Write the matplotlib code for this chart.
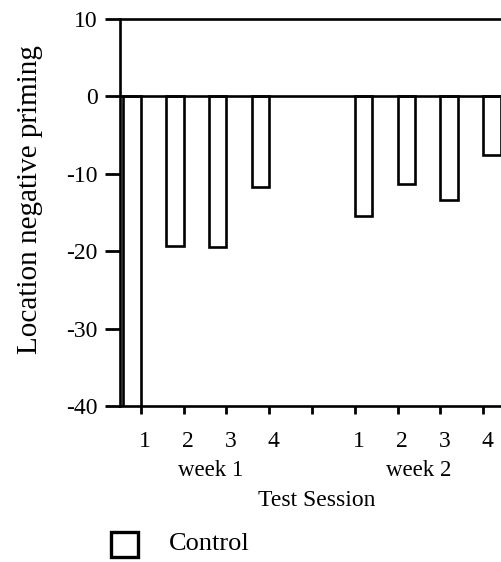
import matplotlib
matplotlib.use("Agg")
import matplotlib.pyplot as plt
import matplotlib.transforms as mtransforms
from matplotlib.patches import Rectangle

# Session labels and location negative priming scores (Control group)
week1_sessions = ["1", "2", "3", "4"]
week2_sessions = ["1", "2", "3", "4"]
week1_values = [-40.0, -19.3, -19.5, -11.7]
week2_values = [-15.4, -11.3, -13.4, -7.6]
week_labels = ["week 1", "week 2"]
y_ticks = [10, 0, -10, -20, -30, -40]

plt.rcParams["font.family"] = ["Liberation Serif", "DejaVu Serif"]

W, H = 502, 562
fig = plt.figure(figsize=(W / 100, H / 100), dpi=100)

# axes placement in pixels
ax_left, ax_right, ax_top, ax_bottom = 120, 502, 19, 406
ax = fig.add_axes([ax_left / W, 1 - ax_bottom / H,
                   (ax_right - ax_left) / W, (ax_bottom - ax_top) / H])

# tick positions: four sessions, an empty slot, four sessions
pos1 = [1, 2, 3, 4]
pos2 = [6, 7, 8, 9]
gap_pos = 5
bar_w = 0.41
lw = 1.9

ax.bar(pos1, week1_values, width=-bar_w, align="edge",
       facecolor="white", edgecolor="black", linewidth=lw, zorder=3)
ax.bar(pos2, week2_values, width=bar_w, align="edge",
       facecolor="white", edgecolor="black", linewidth=lw, zorder=3)

ax.axhline(0, color="black", linewidth=lw, zorder=4)

ax.set_ylim(-40, 10)
ax.set_xlim(0.509, 9.444)

for side in ("left", "bottom", "top"):
    ax.spines[side].set_linewidth(lw)
ax.spines["right"].set_visible(False)

ax.set_yticks(y_ticks)
ax.set_yticklabels([str(v) for v in y_ticks])
ax.tick_params(axis="y", direction="out", length=11, width=2.0,
               labelsize=17, pad=5)

ax.set_xticks(pos1 + [gap_pos] + pos2)
ax.set_xticklabels(week1_sessions + [""] + week2_sessions)
ax.tick_params(axis="x", direction="out", length=6, width=2.0,
               labelsize=17, pad=12)
shift = mtransforms.ScaledTranslation(0.04, 0, fig.dpi_scale_trans)
for lab in ax.get_xticklabels():
    lab.set_transform(lab.get_transform() + shift)

# week labels beneath the session numbers
blend = mtransforms.blended_transform_factory(ax.transData, fig.transFigure)
ax.text((pos1[1] + pos1[2]) / 2 + 0.12, 1 - 470 / H, week_labels[0],
        transform=blend, ha="center", va="center", fontsize=16.5)
ax.text((pos2[1] + pos2[2]) / 2, 1 - 471 / H, week_labels[1],
        transform=blend, ha="center", va="center", fontsize=16.5)
ax.text(gap_pos + 0.1, 1 - 500 / H, "Test Session",
        transform=blend, ha="center", va="center", fontsize=17)

fig.text(30 / W, 1 - 200 / H, "Location negative priming",
         rotation=90, ha="center", va="center", fontsize=21)

# legend entry
fig.patches.append(Rectangle((111 / W, 1 - 557 / H), 27 / W, 25 / H,
                             transform=fig.transFigure, facecolor="white",
                             edgecolor="black", linewidth=2.4))
fig.text(169 / W, 1 - 544 / H, "Control", ha="left", va="center",
         fontsize=19)

fig.savefig("out.png", dpi=100, facecolor="white")
